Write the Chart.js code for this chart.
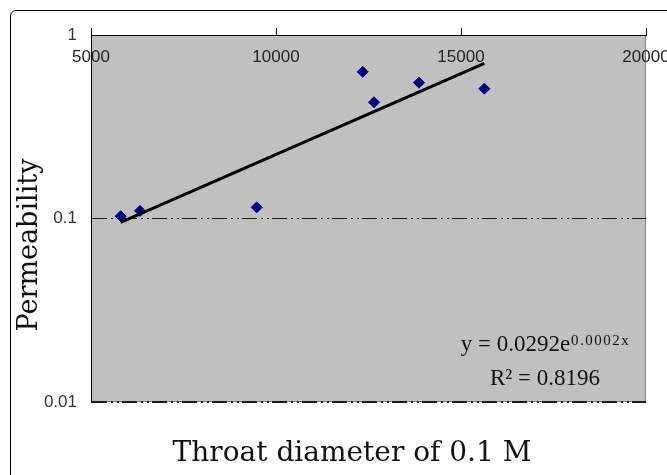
<!DOCTYPE html>
<html>
<head>
<meta charset="utf-8">
<script src="https://cdn.jsdelivr.net/npm/chart.js@4/dist/chart.umd.min.js"></script>
<style>
  html, body { margin: 0; padding: 0; background: #ffffff; }
  #wrap { width: 667px; height: 475px; position: relative; }
</style>
</head>
<body>
<div id="wrap"><canvas id="c" width="667" height="475"></canvas></div>
<script>
// ---- data ----
const throatDiameter = [5803, 6324, 9479, 12344, 12649, 13865, 15631];
const permeability   = [0.103, 0.110, 0.115, 0.63, 0.43, 0.55, 0.51];
const trendX = [5803, 15631];
const trendY = [0.0953, 0.70];
const xTickValues = [5000, 10000, 15000, 20000];
const xTickLabels = ['5000', '10000', '15000', '20000'];
const yTickValues = [0.01, 0.1, 1];
const yTickLabels = ['0.01', '0.1', '1'];
const xTitle = 'Throat diameter of 0.1 M';
const yTitle = 'Permeability';
const equationMain = 'y = 0.0292e';
const equationExp = '0.0002x';
const rSquared = 'R\u00B2 = 0.8196';

const decor = {
  id: 'decor',
  beforeDraw(chart) {
    const { ctx, chartArea: a } = chart;
    ctx.save();
    ctx.fillStyle = '#ffffff';
    ctx.fillRect(0, 0, chart.width, chart.height);
    // outer frame (top and left visible, rounded corner)
    ctx.strokeStyle = '#000000';
    ctx.lineWidth = 1;
    ctx.beginPath();
    ctx.moveTo(10.5, chart.height + 5);
    ctx.lineTo(10.5, 16);
    ctx.arcTo(10.5, 10.5, 16, 10.5, 5.5);
    ctx.lineTo(chart.width + 5, 10.5);
    ctx.stroke();
    // plot area
    ctx.fillStyle = '#c0c0c0';
    ctx.fillRect(a.left, a.top, a.right - a.left, a.bottom - a.top);
    ctx.strokeStyle = '#808080';
    ctx.beginPath();
    ctx.moveTo(a.right - 0.5, a.top);
    ctx.lineTo(a.right - 0.5, a.bottom - 0.5);
    ctx.lineTo(a.left, a.bottom - 0.5);
    ctx.stroke();
    ctx.restore();
  },
  afterDraw(chart) {
    const { ctx, chartArea: a } = chart;
    ctx.save();
    // vertical axis title
    ctx.fillStyle = '#111111';
    ctx.font = '27px "DejaVu Serif", serif';
    ctx.textAlign = 'center';
    ctx.textBaseline = 'middle';
    ctx.translate(30, a.top + 210);
    ctx.rotate(-Math.PI / 2);
    ctx.fillText(yTitle, 0, 0);
    ctx.restore();

    ctx.save();
    ctx.fillStyle = '#111111';
    ctx.textBaseline = 'alphabetic';
    const cx = a.right - 101;
    const mainFont = '23px "Liberation Serif", "Times New Roman", serif';
    const supFont = '15px "Liberation Serif", "Times New Roman", serif';
    ctx.font = mainFont;
    const wMain = ctx.measureText(equationMain).width;
    ctx.font = supFont;
    ctx.letterSpacing = '1.5px';
    const wSup = ctx.measureText(equationExp).width;
    const x0 = cx - (wMain + wSup) / 2;
    const base1 = a.bottom - 51;
    ctx.letterSpacing = '0px';
    ctx.font = mainFont;
    ctx.textAlign = 'left';
    ctx.fillText(equationMain, x0, base1);
    ctx.font = supFont;
    ctx.letterSpacing = '1.5px';
    ctx.fillText(equationExp, x0 + wMain + 1, base1 - 6);
    ctx.letterSpacing = '0px';
    ctx.font = mainFont;
    ctx.textAlign = 'center';
    ctx.fillText(rSquared, cx, a.bottom - 17);
    ctx.restore();
  }
};

new Chart(document.getElementById('c'), {
  type: 'scatter',
  data: {
    datasets: [
      {
        label: 'Permeability',
        data: throatDiameter.map((x, i) => ({ x: x, y: permeability[i] })),
        pointStyle: 'rectRot',
        pointRadius: 5.5,
        pointBackgroundColor: '#000080',
        pointBorderColor: '#000080',
        pointBorderWidth: 1,
        order: 1
      },
      {
        label: 'Trend',
        data: trendX.map((x, i) => ({ x: x, y: trendY[i] })),
        showLine: true,
        borderColor: '#000000',
        borderWidth: 3,
        pointRadius: 0,
        order: 0
      }
    ]
  },
  options: {
    responsive: false,
    animation: false,
    devicePixelRatio: 1,
    layout: { padding: { left: 37, right: 0, top: 0, bottom: 0 } },
    plugins: {
      legend: { display: false },
      tooltip: { enabled: false },
      title: {
        display: true,
        text: xTitle,
        position: 'bottom',
        fullSize: true,
        color: '#111111',
        font: { family: '"DejaVu Serif", serif', size: 28, weight: 'normal', lineHeight: 1.2 },
        padding: { top: 35.2, bottom: 4.2 }
      }
    },
    scales: {
      x: {
        type: 'linear',
        position: 'top',
        min: 5000,
        max: 20000,
        afterBuildTicks: (s) => { s.ticks = xTickValues.map(v => ({ value: v })); },
        afterFit: (s) => { s.height = 35; s.paddingLeft = 0; s.paddingRight = 21; },
        ticks: {
          autoSkip: false,
          maxRotation: 0,
          mirror: true,
          padding: 11.8,
          color: '#222222',
          font: { family: '"Liberation Sans", Arial, sans-serif', size: 17, lineHeight: 1.2 },
          callback: (v, i) => xTickLabels[i]
        },
        grid: {
          drawOnChartArea: false,
          drawTicks: true,
          tickLength: 7,
          tickColor: '#000000',
          tickWidth: 1
        },
        border: { display: true, color: '#000000', width: 1 }
      },
      y: {
        type: 'logarithmic',
        position: 'left',
        min: 0.01,
        max: 1,
        afterBuildTicks: (s) => { s.ticks = yTickValues.map(v => ({ value: v })); },
        afterFit: (s) => { s.width = 54; s.paddingTop = 0; s.paddingBottom = 0; },
        ticks: {
          autoSkip: false,
          padding: 14,
          color: '#333333',
          font: { family: '"Liberation Sans", Arial, sans-serif', size: 17 },
          callback: (v, i) => yTickLabels[i]
        },
        grid: {
          drawOnChartArea: true,
          drawTicks: false,
          color: (c) => (c.tick && c.tick.value === 1) ? 'rgba(0,0,0,0)' : '#1a1a1a',
          lineWidth: (c) => (c.tick && c.tick.value === 0.01) ? 2 : 1
        },
        border: { display: true, color: '#000000', width: 1, dash: [15, 4, 2, 4, 2, 3] },
        title: { display: false }
      }
    }
  },
  plugins: [decor]
});
</script>
</body>
</html>
